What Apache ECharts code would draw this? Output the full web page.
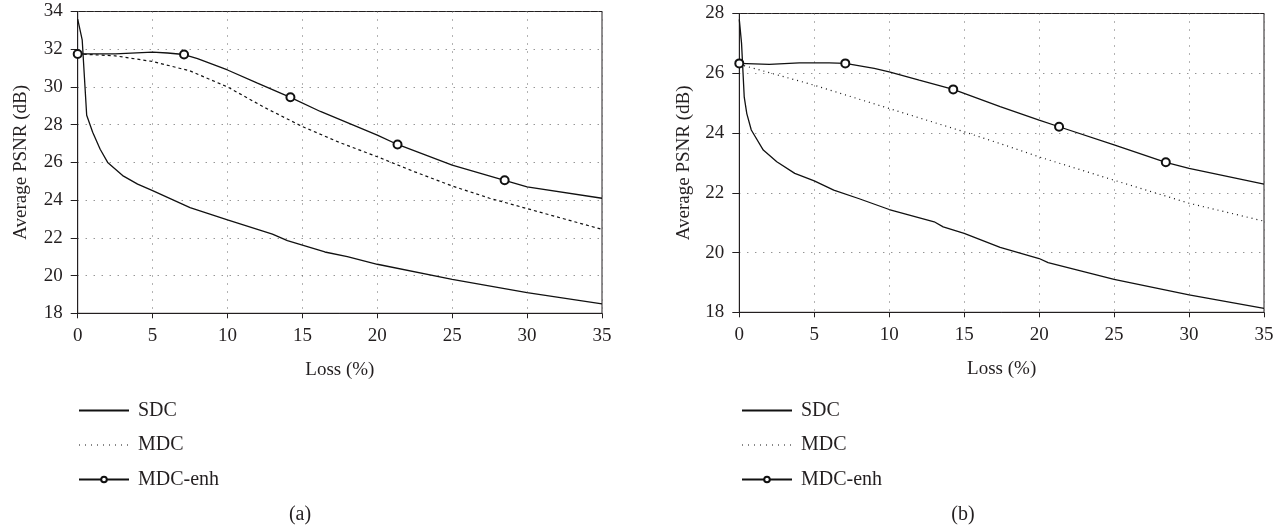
<!DOCTYPE html>
<html><head><meta charset="utf-8">
<script src="https://cdn.jsdelivr.net/npm/echarts@6/dist/echarts.min.js"></script>
<style>html,body{margin:0;padding:0;background:#fff}#c{width:1284px;height:529px}</style>
</head><body><div id="c"></div>
<script>
// ---- data (a) ----
const sdcA = [[0,33.6],[0.3,32.5],[0.6,28.5],[1,27.6],[1.5,26.7],[2,26.0],[3,25.3],[4,24.85],[5,24.5],[7.5,23.6],[10,22.95],[13,22.2],[14,21.85],[16.5,21.25],[18,21.0],[20,20.6],[25,19.8],[30,19.1],[35,18.5]];
const mdcA = [[0,31.75],[2.5,31.65],[5,31.35],[7.5,30.85],[10,30.0],[12.5,28.9],[15,27.9],[17.5,27.05],[20,26.3],[22.5,25.5],[25,24.75],[27.5,24.1],[30,23.55],[32.5,23.0],[35,22.45]];
const enhA = [[0,31.75],[2.5,31.75],[5,31.85],[6,31.8],[7.1,31.72],[8,31.5],[10,30.9],[12,30.2],[14.2,29.45],[16.2,28.7],[20,27.45],[21.35,26.95],[25,25.85],[28.5,25.05],[30,24.7],[35,24.1]];
const enhMarkA = [0,4,8,11,13];
// ---- data (b) ----
const sdcB = [[0,27.8],[0.15,27.0],[0.33,25.2],[0.5,24.65],[0.8,24.1],[1.6,23.43],[2.5,23.04],[3.7,22.65],[5,22.4],[6.3,22.09],[8,21.8],[10,21.44],[13,21.03],[13.6,20.86],[15,20.64],[17.4,20.17],[20,19.8],[20.6,19.66],[25,19.1],[30,18.58],[35,18.13]];
const mdcB = [[0,26.3],[5,25.6],[10,24.82],[15,24.04],[17.5,23.63],[20,23.2],[25,22.42],[30,21.65],[35,21.05]];
const enhB = [[0,26.33],[2,26.3],[4,26.35],[6,26.35],[7.07,26.33],[9,26.16],[10,26.05],[12,25.77],[14.27,25.46],[17.4,24.88],[20,24.43],[21.33,24.21],[25,23.6],[28.45,23.02],[30,22.82],[35,22.29]];
const enhMarkB = [0,4,8,11,13];
const seriesNames = ['SDC','MDC','MDC-enh'];
const captions = ['(a)','(b)'];
const xName = 'Loss (%)';
const yName = 'Average PSNR (dB)';

const FONT = 'Liberation Serif';
const TXT = '#231f20';
function mkEnh(arr, marks){
  return arr.map((p,i)=> marks.includes(i) ? {value:p} : {value:p, symbol:'none'});
}
function xAxis(gi){
  return {gridIndex:gi,type:'value',min:0,max:35,interval:5,
    name:xName,nameLocation:'middle',nameGap:47,
    nameTextStyle:{fontFamily:FONT,fontSize:19,color:TXT},
    axisLine:{lineStyle:{color:TXT,width:1}},
    axisTick:{inside:false,length:5,lineStyle:{color:TXT}},
    axisLabel:{fontFamily:FONT,fontSize:19,color:TXT,margin:13},
    splitLine:{show:true,lineStyle:{color:'#666',type:[1,7],width:1}}};
}
function yAxis(gi,min,max,gap){
  return {gridIndex:gi,type:'value',min:min,max:max,interval:2,
    name:yName,nameLocation:'middle',nameGap:gap,
    nameTextStyle:{fontFamily:FONT,fontSize:19,color:TXT},
    axisLine:{show:true,lineStyle:{color:TXT,width:1}},
    axisTick:{show:true,inside:false,length:7,lineStyle:{color:TXT}},
    axisLabel:{fontFamily:FONT,fontSize:19,color:TXT,margin:15},
    splitLine:{show:true,lineStyle:{color:'#666',type:[1,7],width:1}}};
}
function line(name,data,gi,style,extra){
  return Object.assign({name:name,type:'line',xAxisIndex:gi,yAxisIndex:gi,data:data,
    symbol:'none',smooth:false,lineStyle:Object.assign({color:'#111',width:1.3},style),
    itemStyle:{color:'#111'},z:3},extra||{});
}
const enhExtra = {symbol:'emptyCircle',symbolSize:8,showAllSymbol:true,
  itemStyle:{color:'#111',borderColor:'#111',borderWidth:1}};
const hideSym = {color:'rgba(0,0,0,0)',borderColor:'rgba(0,0,0,0)',borderWidth:0};
function legend(left){
  return {orient:'vertical',left:left,top:395.5,itemWidth:50,itemHeight:7,itemGap:14.5,
    textStyle:{fontFamily:FONT,fontSize:20,color:TXT,padding:[0,0,0,4]},
    selectedMode:false,
    data:[{name:seriesNames[0],itemStyle:hideSym},
          {name:seriesNames[1],itemStyle:hideSym,lineStyle:{type:[1,5],width:1,color:'#111'}},
          {name:seriesNames[2]}]};
}
const chart = echarts.init(document.getElementById('c'),null,{renderer:'canvas'});
chart.setOption({
  animation:false,
  backgroundColor:'#fff',
  grid:[{left:77.7,right:682,top:11.5,bottom:215.7,show:true,borderColor:TXT,borderWidth:1},
        {left:739.3,right:20,top:13.5,bottom:216.7,show:true,borderColor:TXT,borderWidth:1}],
  xAxis:[xAxis(0),xAxis(1)],
  yAxis:[yAxis(0,18,34,47),yAxis(1,18,28,46)],
  legend:[legend(73),legend(736)],
  graphic:[
    {type:'text',x:300,y:515,style:{text:captions[0],font:'20px "Liberation Serif"',fill:TXT,textAlign:'center',textVerticalAlign:'middle'}},
    {type:'text',x:963,y:515,style:{text:captions[1],font:'20px "Liberation Serif"',fill:TXT,textAlign:'center',textVerticalAlign:'middle'}}
  ],
  series:[
    line(seriesNames[0],sdcA,0,{}),
    line(seriesNames[1],mdcA,0,{type:[3,3],width:1.2}),
    line(seriesNames[2],mkEnh(enhA,enhMarkA),0,{},enhExtra),
    line(seriesNames[0],sdcB,1,{}),
    line(seriesNames[1],mdcB,1,{type:[1,4],width:1.2}),
    line(seriesNames[2],mkEnh(enhB,enhMarkB),1,{},enhExtra)
  ]
});
</script></body></html>
